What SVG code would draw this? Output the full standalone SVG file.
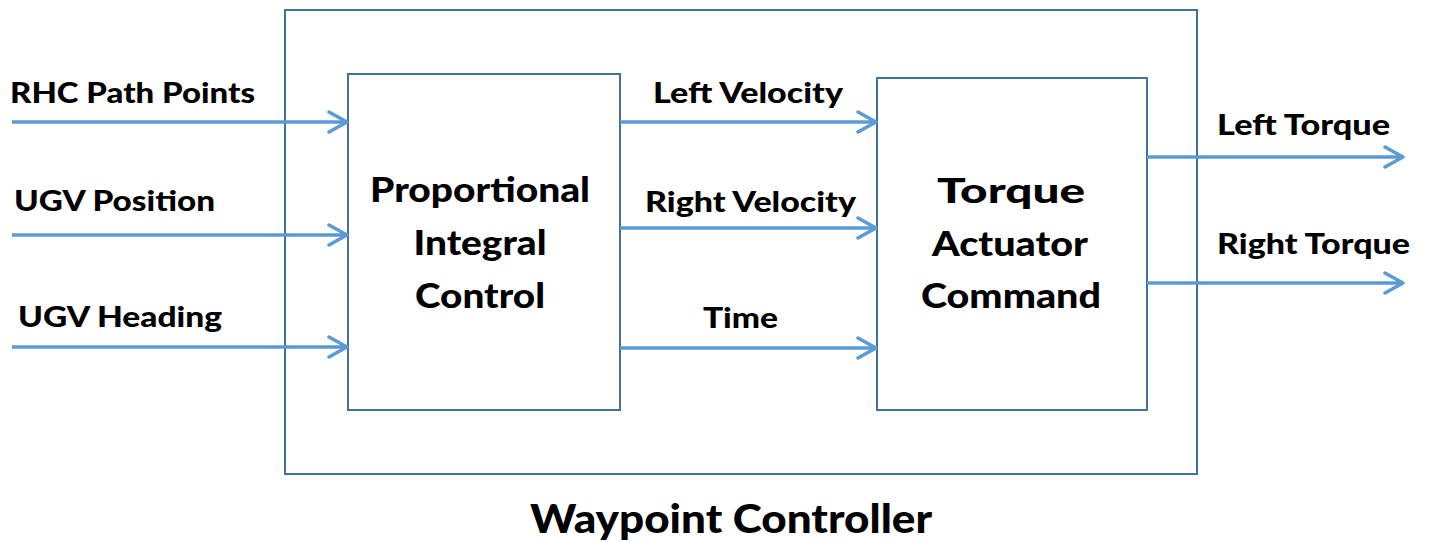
<svg xmlns="http://www.w3.org/2000/svg" width="1430" height="542" viewBox="0 0 1430 542">
  <defs>
    <marker id="chev" viewBox="0 0 24 24" refX="21" refY="12" markerWidth="24" markerHeight="24" markerUnits="userSpaceOnUse" orient="auto">
      <polyline points="3,2 21,12 3,22" fill="none" stroke="#5b9bd5" stroke-width="3.5" stroke-linecap="round" stroke-linejoin="round"/>
    </marker>
    <style>
      .box { fill: #ffffff; stroke: #41719c; stroke-width: 2; }
      .wire { stroke: #5b9bd5; stroke-width: 3.5; fill: none; marker-end: url(#chev); }
      .lbl { font-family: "Lato", "Open Sans", sans-serif; font-weight: 900; font-size: 29px; fill: #000; }
      .blk { font-family: "Lato", "Open Sans", sans-serif; font-weight: 900; font-size: 34px; fill: #000; text-anchor: middle; }
      .ttl { font-family: "Lato", "Open Sans", sans-serif; font-weight: 900; font-size: 40px; fill: #000; text-anchor: middle; }
    </style>
  </defs>

  <!-- enclosing controller -->
  <g id="waypoint-controller">
    <rect class="box" x="285" y="10" width="912" height="464"/>
    <text class="ttl" x="731" y="533" textLength="402" lengthAdjust="spacingAndGlyphs">Waypoint Controller</text>
  </g>

  <g id="pi-control">
    <rect class="box" x="348" y="74" width="272" height="336"/>
    <text class="blk" x="480" y="202" textLength="220" lengthAdjust="spacingAndGlyphs">Proportional</text>
    <text class="blk" x="480" y="255" textLength="133" lengthAdjust="spacingAndGlyphs">Integral</text>
    <text class="blk" x="480" y="308" textLength="130" lengthAdjust="spacingAndGlyphs">Control</text>
  </g>

  <g id="torque-actuator">
    <rect class="box" x="877" y="78" width="270" height="332"/>
    <text class="blk" x="1011" y="203" textLength="148" lengthAdjust="spacingAndGlyphs">Torque</text>
    <text class="blk" x="1010" y="256" textLength="156" lengthAdjust="spacingAndGlyphs">Actuator</text>
    <text class="blk" x="1011" y="308" textLength="180" lengthAdjust="spacingAndGlyphs">Command</text>
  </g>

  <!-- signal lines -->
  <g id="connectors">
    <line class="wire" x1="12" y1="122" x2="347" y2="122"/>
    <line class="wire" x1="12" y1="235" x2="347" y2="235"/>
    <line class="wire" x1="12" y1="347" x2="347" y2="347"/>
    <line class="wire" x1="620" y1="122" x2="876" y2="122"/>
    <line class="wire" x1="620" y1="228" x2="876" y2="228"/>
    <line class="wire" x1="620" y1="348" x2="876" y2="348"/>
    <line class="wire" x1="1147" y1="157" x2="1403" y2="157"/>
    <line class="wire" x1="1147" y1="283" x2="1403" y2="283"/>
  </g>

  <g id="signal-labels">
    <text class="lbl" x="10" y="103" textLength="245" lengthAdjust="spacingAndGlyphs">RHC Path Points</text>
    <text class="lbl" x="14" y="211" textLength="201" lengthAdjust="spacingAndGlyphs">UGV Position</text>
    <text class="lbl" x="18" y="327" textLength="204" lengthAdjust="spacingAndGlyphs">UGV Heading</text>
    <text class="lbl" x="653" y="103" textLength="190" lengthAdjust="spacingAndGlyphs">Left Velocity</text>
    <text class="lbl" x="645" y="212" textLength="211" lengthAdjust="spacingAndGlyphs">Right Velocity</text>
    <text class="lbl" x="703" y="328" textLength="75" lengthAdjust="spacingAndGlyphs">Time</text>
    <text class="lbl" x="1217" y="135" textLength="173" lengthAdjust="spacingAndGlyphs">Left Torque</text>
    <text class="lbl" x="1217" y="254" textLength="193" lengthAdjust="spacingAndGlyphs">Right Torque</text>
  </g>
</svg>
